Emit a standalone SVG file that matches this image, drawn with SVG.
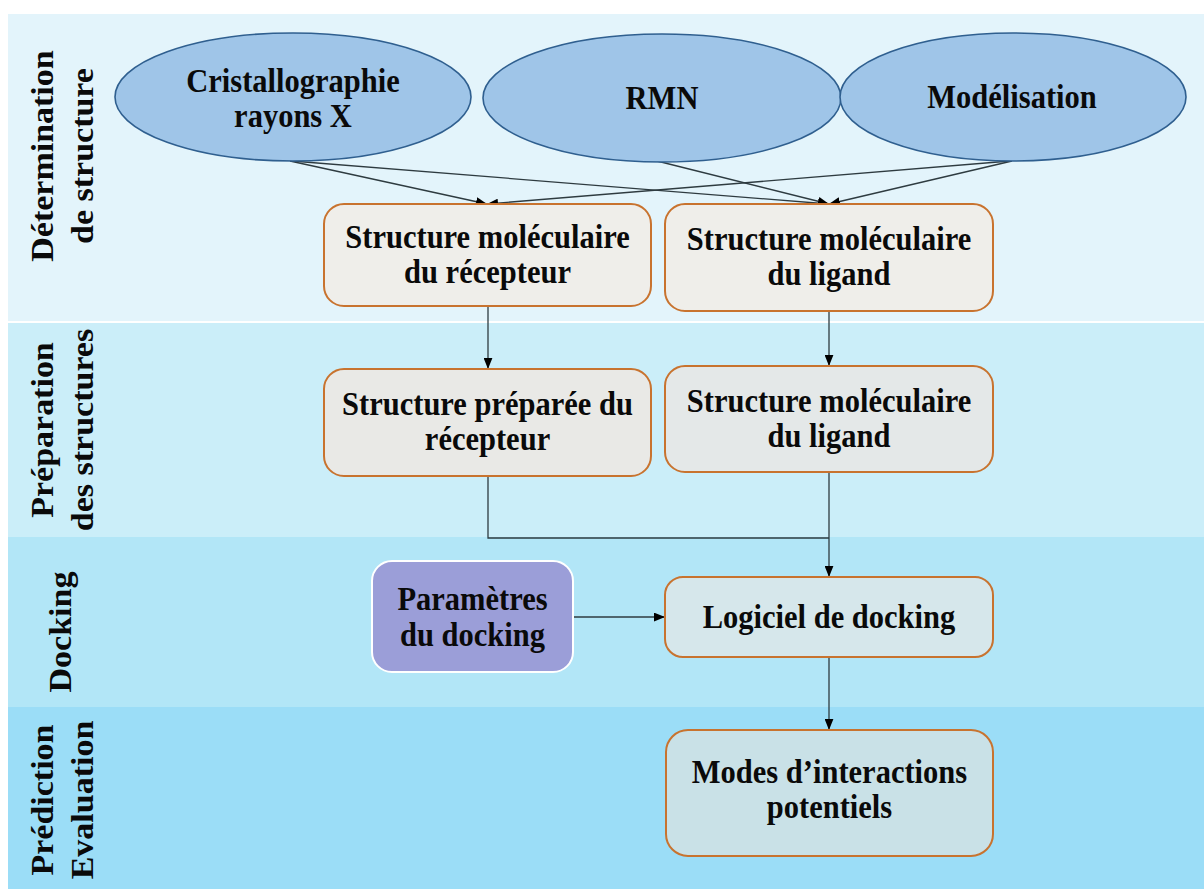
<svg xmlns="http://www.w3.org/2000/svg" width="1204" height="889" viewBox="0 0 1204 889">
  <style>
    .t { font-family: 'Liberation Serif', 'DejaVu Serif', serif; font-weight: 700; font-size: 33px; fill: #0a0a0a; text-anchor: middle; }
    .lab { font-family: 'Liberation Serif', 'DejaVu Serif', serif; font-weight: 700; font-size: 34px; fill: #0a0a0a; text-anchor: middle; }
    .ell { fill: #9fc5e8; stroke: #2f5f8f; stroke-width: 1.6; }
    .box { stroke: #c8732f; stroke-width: 2; }
    .conn { fill: none; stroke: #2e3b40; stroke-width: 1.3; }
  </style>
  <defs>
    <marker id="arrow" viewBox="0 0 10 8" refX="10" refY="4" markerWidth="11" markerHeight="9" markerUnits="userSpaceOnUse" orient="auto">
      <path d="M0,0 L10,4 L0,8 z" fill="#000"/>
    </marker>
  </defs>

  <!-- page background -->
  <rect x="0" y="0" width="1204" height="889" fill="#ffffff"/>

  <!-- swimlane bands -->
  <g id="lanes">
    <rect x="8" y="14" width="1196" height="307" fill="#e3f4fb"/>
    <rect x="8" y="323" width="1196" height="214" fill="#cbeef9"/>
    <rect x="8" y="537" width="1196" height="170" fill="#b2e6f7"/>
    <rect x="8" y="707" width="1196" height="182" fill="#9bddf7"/>
  </g>

  <!-- lane titles -->
  <g id="lane-titles">
    <text class="lab" transform="translate(53 156) rotate(-90) scale(1 0.925)">Détermination</text>
    <text class="lab" transform="translate(93 156) rotate(-90) scale(1 0.925)">de structure</text>
    <text class="lab" transform="translate(53 430) rotate(-90) scale(1 0.925)">Préparation</text>
    <text class="lab" transform="translate(93 430) rotate(-90) scale(1 0.925)">des structures</text>
    <text class="lab" transform="translate(71 632) rotate(-90) scale(1 0.925)">Docking</text>
    <text class="lab" transform="translate(53 800) rotate(-90) scale(1 0.925)">Prédiction</text>
    <text class="lab" transform="translate(93 800) rotate(-90) scale(1 0.925)">Evaluation</text>
  </g>

  <!-- connectors -->
  <g id="connectors">
    <line class="conn" x1="290" y1="161" x2="487" y2="204" marker-end="url(#arrow)"/>
    <line class="conn" x1="292" y1="161" x2="829" y2="204" marker-end="url(#arrow)"/>
    <line class="conn" x1="657" y1="161" x2="829" y2="204" marker-end="url(#arrow)"/>
    <line class="conn" x1="1012" y1="161" x2="829" y2="204" marker-end="url(#arrow)"/>
    <line class="conn" x1="1010" y1="161" x2="487" y2="204" marker-end="url(#arrow)"/>
    <line class="conn" x1="488" y1="306" x2="488" y2="369" marker-end="url(#arrow)"/>
    <line class="conn" x1="829" y1="311" x2="829" y2="366" marker-end="url(#arrow)"/>
    <path class="conn" d="M488,476 V538 H829"/>
    <line class="conn" x1="829" y1="472" x2="829" y2="577" marker-end="url(#arrow)"/>
    <line class="conn" x1="573" y1="617" x2="665" y2="617" marker-end="url(#arrow)"/>
    <line class="conn" x1="829" y1="657" x2="829" y2="730" marker-end="url(#arrow)"/>
  </g>

  <!-- structure determination methods -->
  <g id="cristallographie">
    <ellipse class="ell" cx="293" cy="97" rx="178" ry="64"/>
    <text class="t" transform="matrix(0.925 0 0 1 293 0)" x="0" y="92">Cristallographie</text>
    <text class="t" transform="matrix(0.925 0 0 1 293 0)" x="0" y="127">rayons X</text>
  </g>
  <g id="rmn">
    <ellipse class="ell" cx="662" cy="98" rx="179" ry="64"/>
    <text class="t" transform="matrix(0.925 0 0 1 662 0)" x="0" y="109">RMN</text>
  </g>
  <g id="modelisation">
    <ellipse class="ell" cx="1013" cy="97" rx="173" ry="64"/>
    <text class="t" transform="matrix(0.925 0 0 1 1012 0)" x="0" y="108">Modélisation</text>
  </g>

  <!-- molecular structures -->
  <g id="recepteur">
    <rect class="box" x="324" y="204" width="327" height="102" rx="20" fill="#efeeea"/>
    <text class="t" transform="matrix(0.925 0 0 1 487.5 0)" x="0" y="248">Structure moléculaire</text>
    <text class="t" transform="matrix(0.925 0 0 1 487.5 0)" x="0" y="283">du récepteur</text>
  </g>
  <g id="ligand">
    <rect class="box" x="665" y="204" width="328" height="107" rx="20" fill="#efeeea"/>
    <text class="t" transform="matrix(0.925 0 0 1 829 0)" x="0" y="250">Structure moléculaire</text>
    <text class="t" transform="matrix(0.925 0 0 1 829 0)" x="0" y="285">du ligand</text>
  </g>

  <!-- prepared structures -->
  <g id="recepteur-prepare">
    <rect class="box" x="324" y="369" width="327" height="107" rx="20" fill="#e9e9e6"/>
    <text class="t" transform="matrix(0.925 0 0 1 487.5 0)" x="0" y="415">Structure préparée du</text>
    <text class="t" transform="matrix(0.925 0 0 1 487.5 0)" x="0" y="450">récepteur</text>
  </g>
  <g id="ligand-prepare">
    <rect class="box" x="665" y="366" width="328" height="106" rx="20" fill="#e4e8e8"/>
    <text class="t" transform="matrix(0.925 0 0 1 829 0)" x="0" y="412">Structure moléculaire</text>
    <text class="t" transform="matrix(0.925 0 0 1 829 0)" x="0" y="447">du ligand</text>
  </g>

  <!-- docking -->
  <g id="parametres">
    <rect x="372" y="561" width="201" height="111" rx="20" fill="#9b9ed8" stroke="#ffffff" stroke-width="2"/>
    <text class="t" transform="matrix(0.925 0 0 1 472.5 0)" x="0" y="610">Paramètres</text>
    <text class="t" transform="matrix(0.925 0 0 1 472.5 0)" x="0" y="646">du docking</text>
  </g>
  <g id="logiciel">
    <rect class="box" x="665" y="577" width="328" height="80" rx="18" fill="#d6e7eb"/>
    <text class="t" transform="matrix(0.925 0 0 1 829 0)" x="0" y="628">Logiciel de docking</text>
  </g>

  <!-- prediction -->
  <g id="modes">
    <rect class="box" x="666" y="730" width="327" height="126" rx="22" fill="#c9e1e7"/>
    <text class="t" transform="matrix(0.925 0 0 1 829.5 0)" x="0" y="783">Modes d’interactions</text>
    <text class="t" transform="matrix(0.925 0 0 1 829.5 0)" x="0" y="818">potentiels</text>
  </g>
</svg>
